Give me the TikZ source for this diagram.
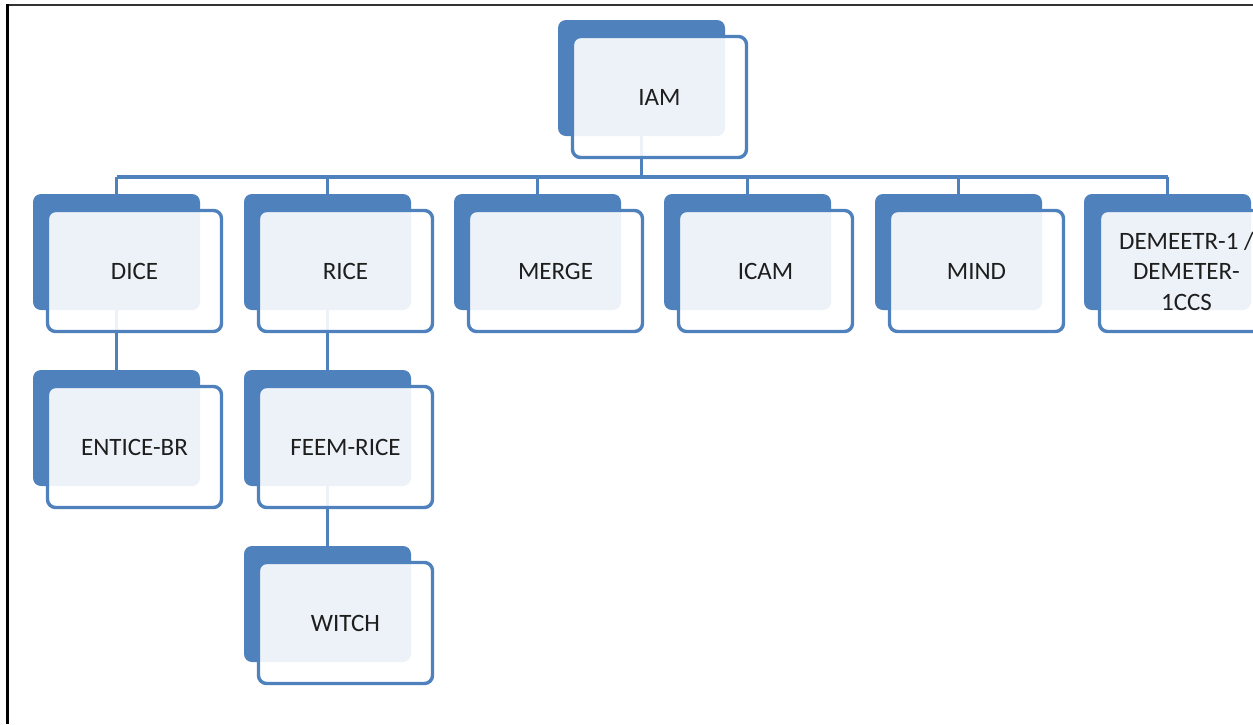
\documentclass[tikz,border=0pt]{standalone}
\usepackage{fontspec}
\usetikzlibrary{calc}
\setmainfont{Carlito}
\definecolor{sablue}{HTML}{4F81BD}
\definecolor{txt}{HTML}{1E1E1E}
\begin{document}
\begin{tikzpicture}[x=1pt,y=-1pt,
  backbox/.style={rectangle,rounded corners=8pt,fill=sablue,draw=none,
    minimum width=167pt,minimum height=116pt,inner sep=0pt,outer sep=0pt},
  frontbox/.style={rectangle,rounded corners=8pt,draw=sablue,line width=3.4pt,
    fill=white,fill opacity=0.9,text opacity=1,text=txt,
    minimum width=174pt,minimum height=121pt,inner sep=2pt,outer sep=0pt,
    align=center,font=\fontsize{25}{30.5}\selectfont},
  link/.style={draw=sablue,line width=3.6pt}]
\useasboundingbox (0,0) rectangle (1253,724);
\fill[white] (0,0) rectangle (1253,724);
% frame
\draw[line width=2pt,black!80] (7,5) -- (1253,5);
\draw[line width=3pt,black] (7,4) -- (7,724);
% back boxes (given by top-left corner)
\node[backbox] (iamb)   at (558+83.5, 20+58) {};
\node[backbox] (diceb)  at (33+83.5, 194+58) {};
\node[backbox] (riceb)  at (244+83.5, 194+58) {};
\node[backbox] (mergeb) at (454+83.5, 194+58) {};
\node[backbox] (icamb)  at (664+83.5, 194+58) {};
\node[backbox] (mindb)  at (875+83.5, 194+58) {};
\node[backbox] (demb)   at (1084+83.5, 194+58) {};
\node[backbox] (enticeb) at (33+83.5, 370+58) {};
\node[backbox] (feemb)  at (244+83.5, 370+58) {};
\node[backbox] (witchb) at (244+83.5, 546+58) {};
% connectors
\coordinate (bus) at (0,177);
\draw[link] (iamb.south) -- (iamb.south |- bus);
\draw[link] (diceb.north |- bus) -- (demb.north |- bus);
\foreach \c in {diceb,riceb,mergeb,icamb,mindb,demb}{
  \draw[link] (\c.north |- bus) -- (\c.north);
}
\draw[link] (diceb.south) -- (enticeb.north);
\draw[link] (riceb.south) -- (feemb.north);
\draw[link] (feemb.south) -- (witchb.north);
% front boxes
\node[frontbox] (iam)    at ($(iamb)+(18,19)$) {IAM};
\node[frontbox] (dice)   at ($(diceb)+(18,19)$) {DICE};
\node[frontbox] (rice)   at ($(riceb)+(18,19)$) {RICE};
\node[frontbox] (merge)  at ($(mergeb)+(18,19)$) {MERGE};
\node[frontbox] (icam)   at ($(icamb)+(18,19)$) {ICAM};
\node[frontbox] (mind)   at ($(mindb)+(18,19)$) {MIND};
\node[frontbox] (dem)    at ($(demb)+(19,19)$) {DEMEETR-1 /\\DEMETER-\\1CCS};
\node[frontbox] (entice) at ($(enticeb)+(18,19)$) {ENTICE-BR};
\node[frontbox] (feem)   at ($(feemb)+(18,19)$) {FEEM-RICE};
\node[frontbox] (witch)  at ($(witchb)+(18,19)$) {WITCH};
\end{tikzpicture}
\end{document}
